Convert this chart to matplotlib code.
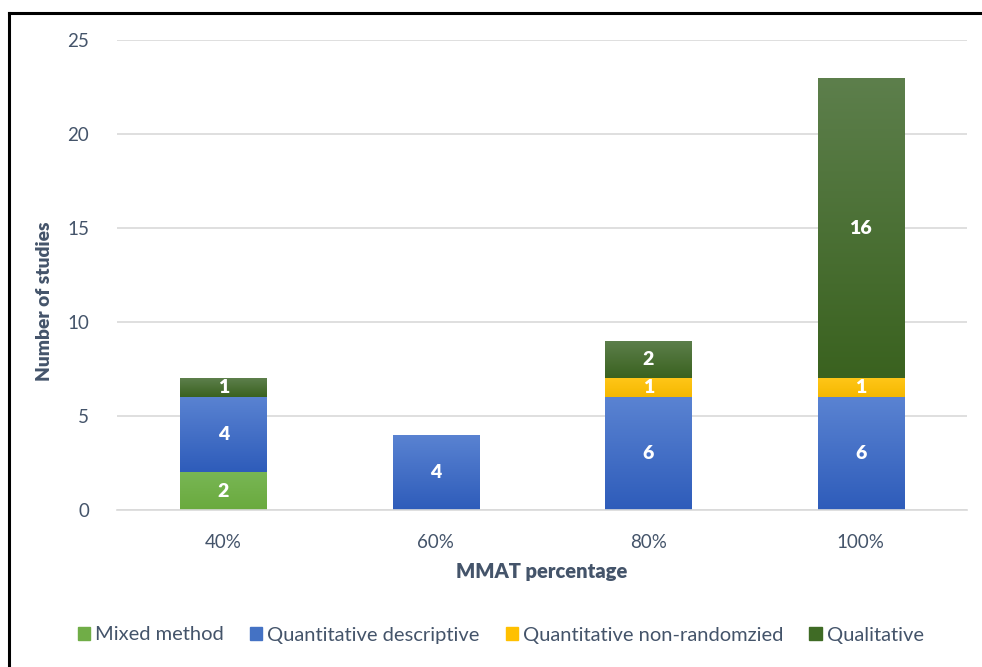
import matplotlib
matplotlib.use("Agg")
import matplotlib.pyplot as plt
import matplotlib.colors as mcolors
import numpy as np
from matplotlib.lines import Line2D

categories = ['40%', '60%', '80%', '100%']
mixed_method = [2, 0, 0, 0]
quant_descriptive = [4, 4, 6, 6]
quant_nonrandomized = [0, 0, 1, 1]
qualitative = [1, 0, 2, 16]
series_names = ['Mixed method', 'Quantitative descriptive',
                'Quantitative non-randomzied', 'Qualitative']
yticks = [0, 5, 10, 15, 20, 25]

plt.rcParams['font.family'] = ['Lato', 'DejaVu Sans']
text_color = '#44546A'

# (top colour, bottom colour) for vertical gradient
grads = [('#78B654', '#6AAA3E'),
         ('#5A83D2', '#2E5CBA'),
         ('#FFC618', '#F5B800'),
         ('#5D7F4C', '#3A621F')]
legend_colors = ['#70AD47', '#4472C4', '#FFC000', '#3F6B25']

fig = plt.figure(figsize=(9.82, 6.67), dpi=100)
ax = fig.add_axes([117/982, 1-510/667, (967-117)/982, (510-40)/667])

x = np.arange(len(categories))
width = 0.405
bottom = np.zeros(len(categories))
all_series = [mixed_method, quant_descriptive, quant_nonrandomized, qualitative]

for vals, (ctop, cbot), name in zip(all_series, grads, series_names):
    vals = np.array(vals, dtype=float)
    bars = ax.bar(x, vals, width, bottom=bottom, color=cbot, label=name,
                  edgecolor='none', zorder=2)
    cmap = mcolors.LinearSegmentedColormap.from_list('g', [cbot, ctop])
    for b, v in zip(bars, vals):
        if v <= 0:
            continue
        x0, y0 = b.get_x(), b.get_y()
        w, h = b.get_width(), b.get_height()
        grad = np.linspace(0, 1, 256).reshape(-1, 1)
        im = ax.imshow(grad, cmap=cmap, origin='lower', aspect='auto',
                       extent=[x0, x0 + w, y0, y0 + h], zorder=2.5)
        im.set_clip_path(b)
        ax.text(x0 + w/2, y0 + h/2, f'{int(v)}', ha='center', va='center',
                color='white', fontsize=14, fontweight='heavy', zorder=4)
    bottom += vals

ax.set_xlim(-0.5, len(categories) - 0.5)
ax.set_ylim(0, 25)
ax.set_yticks(yticks)
ax.set_xticks(x)
ax.set_xticklabels(categories)
ax.tick_params(axis='both', length=0, labelsize=13.5, colors=text_color)
ax.tick_params(axis='y', pad=20)
ax.tick_params(axis='x', pad=17)
ax.yaxis.grid(True, color='#D9D9D9', linewidth=1.2, zorder=0)
ax.set_axisbelow(True)
for s in ['top', 'right', 'left']:
    ax.spines[s].set_visible(False)
ax.spines['bottom'].set_color('#D9D9D9')
ax.spines['bottom'].set_linewidth(1.2)

ax.set_xlabel('MMAT percentage', fontsize=14.5, fontweight='heavy',
              color=text_color, labelpad=8)
ax.set_ylabel('Number of studies', fontsize=13.8, fontweight='heavy',
              color=text_color)
ax.yaxis.set_label_coords((53 - 117) / 850, (510 - 301) / 470)

handles = [plt.Rectangle((0, 0), 1, 1, color=c) for c in legend_colors]
fig.legend(handles, series_names, loc='center', bbox_to_anchor=(0.51, 1-635/667),
           ncol=4, frameon=False, fontsize=14.5, handlelength=0.6,
           handleheight=0.6, handletextpad=0.25, columnspacing=1.3,
           labelcolor=text_color)

# outer border (left and top edges visible)
fig.add_artist(Line2D([9/982, 9/982], [0, 1-13/667], transform=fig.transFigure,
                      color='black', linewidth=2.2))
fig.add_artist(Line2D([9/982, 1], [1-13/667, 1-13/667], transform=fig.transFigure,
                      color='black', linewidth=2.2))

fig.savefig('out.png', dpi=100)
